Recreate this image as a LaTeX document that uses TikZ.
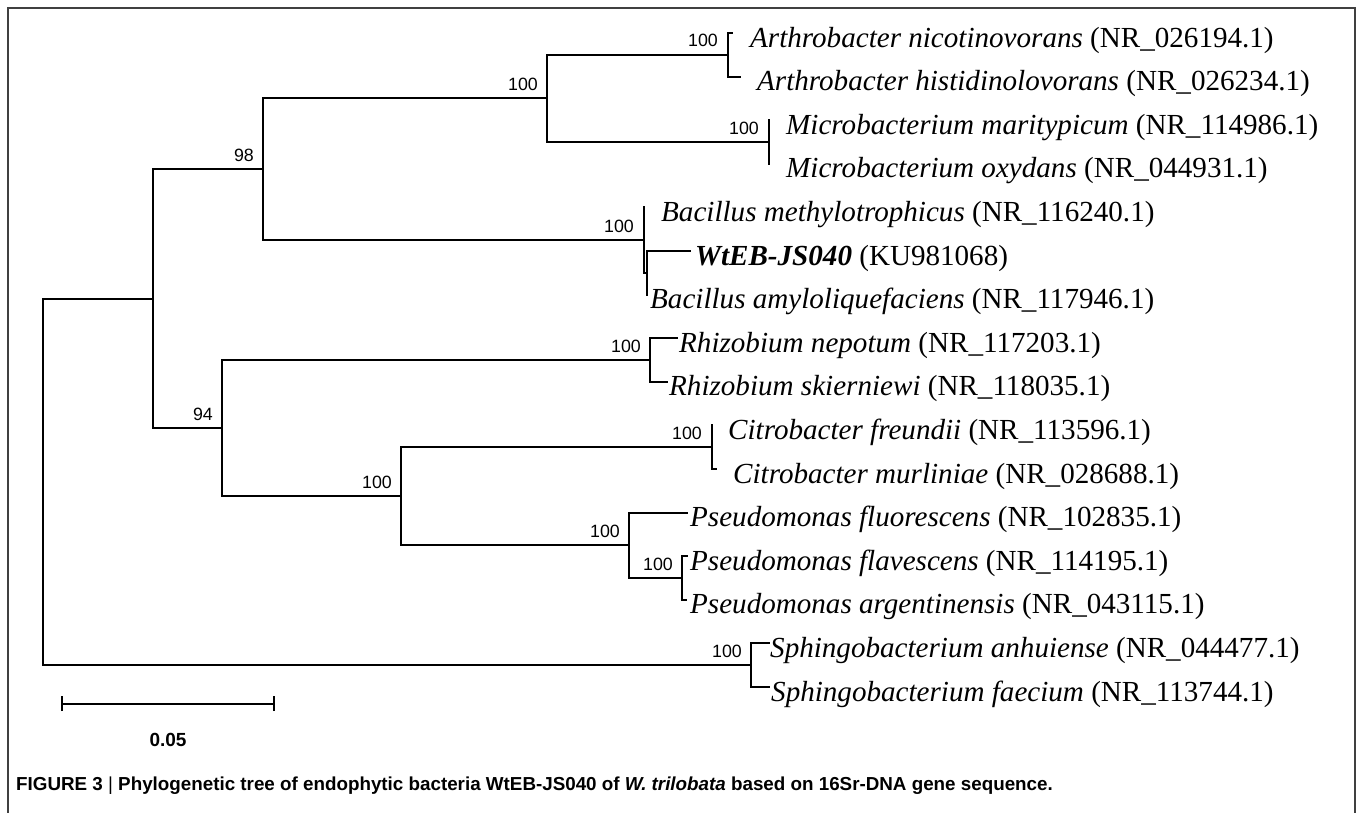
\documentclass[tikz,border=0pt]{standalone}
\usepackage{fontspec}
\setmainfont{Liberation Serif}
\newfontfamily\arialf{Liberation Sans}
\begin{document}
\begin{tikzpicture}[x=1pt,y=-1pt,
  br/.style={line width=2pt, line join=miter, line cap=rect},
  lab/.style={anchor=base west, inner sep=0pt, font=\fontsize{29.1}{30}\selectfont},
  bs/.style={anchor=base east, inner sep=0pt, font=\arialf\fontsize{17.8}{18}\selectfont},
  frame/.style={line width=1.5pt, draw=black!75}]
\useasboundingbox (0,0) rectangle (1358,812);
\fill[white] (0,0) rectangle (1358,812);
\draw[frame] (8,815) -- (8,8) -- (1355,8) -- (1355,815);

% terminal ends
\coordinate (t0) at (732,33);
\coordinate (t1) at (740,76.6);
\coordinate (t2) at (768.5,120.2);
\coordinate (t3) at (768.5,163.8);
\coordinate (t4) at (644,207.4);
\coordinate (t5) at (690,251);
\coordinate (t6) at (647,294.6);
\coordinate (t7) at (677,338.2);
\coordinate (t8) at (667,381.8);
\coordinate (t9) at (711.5,425.4);
\coordinate (t10) at (716,469);
\coordinate (t11) at (687,512.6);
\coordinate (t12) at (687,556.2);
\coordinate (t13) at (686,599.8);
\coordinate (t14) at (769,643.4);
\coordinate (t15) at (769,687);
% internal nodes
\coordinate (nA) at (728,54.8);
\coordinate (nM) at (768.5,142);
\coordinate (nAM) at (547,98.4);
\coordinate (nI) at (647,272.8);
\coordinate (nB) at (644,240.1);
\coordinate (n98) at (263,169.25);
\coordinate (nR) at (649.5,360);
\coordinate (nC) at (711.5,447.2);
\coordinate (nP2) at (682,578);
\coordinate (nP) at (629,545.3);
\coordinate (nCP) at (401,496.25);
\coordinate (n94) at (222,428.1);
\coordinate (nN) at (153,298.7);
\coordinate (nS) at (751,665.2);
\coordinate (root) at (43,482);

% branches
\draw[br] (root) |- (nN);  \draw[br] (root) |- (nS);
\draw[br] (nN) |- (n98);   \draw[br] (nN) |- (n94);
\draw[br] (n98) |- (nAM);  \draw[br] (n98) |- (nB);
\draw[br] (nAM) |- (nA);   \draw[br] (nAM) |- (nM);
\draw[br] (nA) |- (t0);    \draw[br] (nA) |- (t1);
\draw[br] (nM) |- (t2);    \draw[br] (nM) |- (t3);
\draw[br] (nB) |- (t4);    \draw[br] (nB) |- (nI);
\draw[br] (nI) |- (t5);    \draw[br] (nI) |- (t6);
\draw[br] (n94) |- (nR);   \draw[br] (n94) |- (nCP);
\draw[br] (nR) |- (t7);    \draw[br] (nR) |- (t8);
\draw[br] (nCP) |- (nC);   \draw[br] (nCP) |- (nP);
\draw[br] (nC) |- (t9);    \draw[br] (nC) |- (t10);
\draw[br] (nP) |- (t11);   \draw[br] (nP) |- (nP2);
\draw[br] (nP2) |- (t12);  \draw[br] (nP2) |- (t13);
\draw[br] (nS) |- (t14);   \draw[br] (nS) |- (t15);

% taxon labels
\node[lab] (l0) at (750,47) {\textit{Arthrobacter nicotinovorans} (NR\_026194.1)};
\node[lab] (l1) at (757,90.6) {\textit{Arthrobacter histidinolovorans} (NR\_026234.1)};
\node[lab] (l2) at (786,134.2) {\textit{Microbacterium maritypicum} (NR\_114986.1)};
\node[lab] (l3) at (786,177.8) {\textit{Microbacterium oxydans} (NR\_044931.1)};
\node[lab] (l4) at (661,221.4) {\textit{Bacillus methylotrophicus} (NR\_116240.1)};
\node[lab] (l5) at (695,265) {\textbf{\textit{WtEB-JS040}} (KU981068)};
\node[lab] (l6) at (650,308.6) {\textit{Bacillus amyloliquefaciens} (NR\_117946.1)};
\node[lab] (l7) at (679,352.2) {\textit{Rhizobium nepotum} (NR\_117203.1)};
\node[lab] (l8) at (669,395.8) {\textit{Rhizobium skierniewi} (NR\_118035.1)};
\node[lab] (l9) at (728,439.4) {\textit{Citrobacter freundii} (NR\_113596.1)};
\node[lab] (l10) at (733,483) {\textit{Citrobacter murliniae} (NR\_028688.1)};
\node[lab] (l11) at (690,526.6) {\textit{Pseudomonas fluorescens} (NR\_102835.1)};
\node[lab] (l12) at (690,570.2) {\textit{Pseudomonas flavescens} (NR\_114195.1)};
\node[lab] (l13) at (690,613.8) {\textit{Pseudomonas argentinensis} (NR\_043115.1)};
\node[lab] (l14) at (770,657.4) {\textit{Sphingobacterium anhuiense} (NR\_044477.1)};
\node[lab] (l15) at (771,701) {\textit{Sphingobacterium faecium} (NR\_113744.1)};

% bootstrap values
\node[bs] (b98) at (254,161.25) {98};
\node[bs] (bAM) at (538,90.4) {100};
\node[bs] (bA) at (718,46.8) {100};
\node[bs] (bM) at (759,134) {100};
\node[bs] (bB) at (634,232.1) {100};
\node[bs] (b94) at (213,420.1) {94};
\node[bs] (bR) at (641,352) {100};
\node[bs] (bCP) at (392,488.25) {100};
\node[bs] (bC) at (702,439.2) {100};
\node[bs] (bP) at (620,537.3) {100};
\node[bs] (bP2) at (673,570) {100};
\node[bs] (bS) at (742,657.2) {100};

% scale bar
\coordinate (s0) at (62,704);
\coordinate (s1) at (274,704);
\draw[line width=2.5pt] (s0) -- (s1);
\draw[line width=2pt] ([yshift=-7pt]s0) -- ([yshift=8pt]s0);
\draw[line width=2pt] ([yshift=-7pt]s1) -- ([yshift=8pt]s1);
\node[font=\arialf\bfseries\fontsize{19}{20}\selectfont, inner sep=0pt] (sl) at (168,740) {0.05};

% caption
\node[anchor=base west, inner sep=0pt, font=\arialf\bfseries\fontsize{18.8}{20}\selectfont] (cap) at (16,790)
  {FIGURE 3 {\mdseries|} Phylogenetic tree of endophytic bacteria WtEB-JS040 of \textit{W. trilobata} based on 16Sr-DNA gene sequence.};
\end{tikzpicture}
\end{document}
